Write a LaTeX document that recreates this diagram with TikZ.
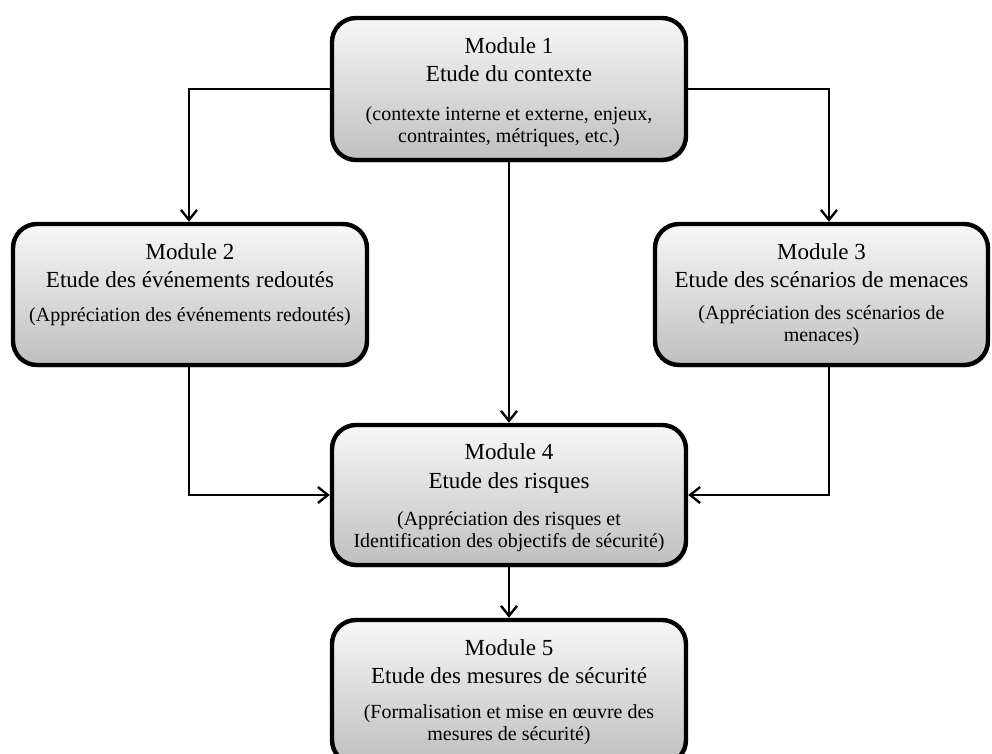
\documentclass[tikz,border=0pt]{standalone}
\usepackage{fontspec}
\setmainfont{Liberation Serif}
\usetikzlibrary{arrows.meta,shadows}

\begin{document}
\begin{tikzpicture}[x=0.5pt,y=-0.5pt,
  module/.style={draw=black, line width=2.2pt, rounded corners=12pt,
    top color=gray!6, bottom color=gray!50, inner sep=0pt,
    drop shadow={shadow xshift=0.8pt, shadow yshift=-1.2pt, opacity=0.25, fill=black}},
  title/.style={font=\fontsize{11.5}{14}\selectfont, align=center, anchor=base, inner sep=0pt},
  note/.style={font=\fontsize{10}{11}\selectfont, align=center, anchor=base, inner sep=0pt},
  link/.style={line width=1.2pt, -{Straight Barb[length=5pt,width=8pt,line width=1.2pt]}}]

\useasboundingbox (0,0) rectangle (992,754);
\clip (0,0) rectangle (992,754);

% module boxes
\node[module, minimum width=177pt,   minimum height=71pt]   (b1) at (509,89)    {};
\node[module, minimum width=177pt,   minimum height=70.5pt] (b2) at (190,294.5) {};
\node[module, minimum width=166.5pt, minimum height=70.5pt] (b3) at (821.5,294.5) {};
\node[module, minimum width=177pt,   minimum height=70pt]   (b4) at (509,495)   {};
\node[module, minimum width=177pt,   minimum height=72pt]   (b5) at (509,692)   {};

% box texts (placed by the baseline of their last line)
\node[title] (t1) at (509,82)  {Module 1\\Etude du contexte};
\node[note]  (s1) at (509,143) {(contexte interne et externe, enjeux,\\contraintes, métriques, etc.)};
\node[title] (t2) at (190,288) {Module 2\\Etude des événements redoutés};
\node[note]  (s2) at (190,322) {(Appréciation des événements redoutés)};
\node[title] (t3) at (821.5,288) {Module 3\\Etude des scénarios de menaces};
\node[note]  (s3) at (821.5,342) {(Appréciation des scénarios de\\menaces)};
\node[title] (t4) at (509,488) {Module 4\\Etude des risques};
\node[note]  (s4) at (509,547) {(Appréciation des risques et\\Identification des objectifs de sécurité)};
\node[title] (t5) at (509,683) {Module 5\\Etude des mesures de sécurité};
\node[note]  (s5) at (509,740) {(Formalisation et mise en œuvre des\\mesures de sécurité)};

% connectors
\coordinate (j2) at (189,91);
\coordinate (j3) at (829,91);
\draw[link] (b1.west) -| (j2 |- b2.north);
\draw[link] (b1.east) -| (j3 |- b3.north);
\draw[link] (b1.south) -- (b4.north);
\draw[link] (j2 |- b2.south) |- (b4.west);
\draw[link] (j3 |- b3.south) |- (b4.east);
\draw[link] (b4.south) -- (b5.north);
\end{tikzpicture}
\end{document}
